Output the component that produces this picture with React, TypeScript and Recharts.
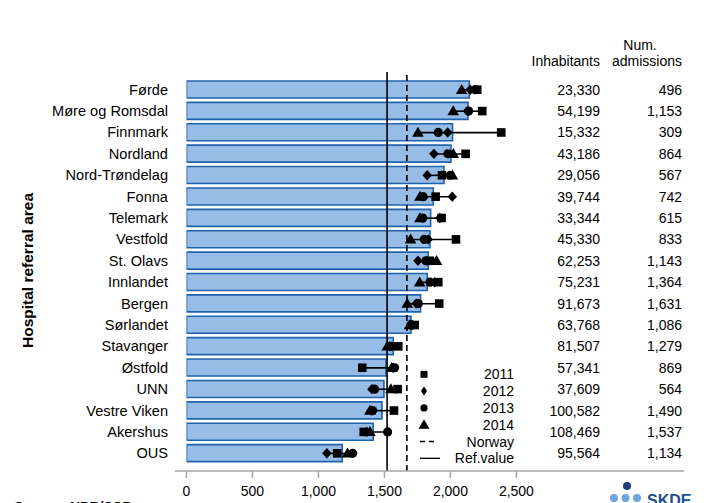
import React from 'react';
import { ComposedChart, Bar, Scatter, XAxis, YAxis, ReferenceLine } from 'recharts';

const categories = [
  'Førde', 'Møre og Romsdal', 'Finnmark', 'Nordland', 'Nord-Trøndelag', 'Fonna',
  'Telemark', 'Vestfold', 'St. Olavs', 'Innlandet', 'Bergen', 'Sørlandet',
  'Stavanger', 'Østfold', 'UNN', 'Vestre Viken', 'Akershus', 'OUS',
];
const rateAll = [2143, 2133, 2016, 2004, 1951, 1870, 1850, 1845, 1832, 1824, 1774, 1701, 1567, 1511, 1496, 1481, 1415, 1180];
const rate2011 = [2203, 2241, 2385, 2115, 1936, 1888, 1933, 2042, 1845, 1908, 1915, 1729, 1605, 1332, 1600, 1572, 1343, 1142];
const rate2012 = [2150, 2130, 1979, 1875, 1824, 2014, 1920, 1832, 1754, 1880, 1740, 1710, 1540, 1565, 1405, 1400, 1365, 1064];
const rate2013 = [2190, 2138, 1908, 1981, 2000, 1794, 1790, 1802, 1814, 1845, 1756, 1700, 1550, 1577, 1425, 1410, 1524, 1259];
const rate2014 = [2085, 2021, 1754, 2022, 2015, 1769, 1769, 1698, 1895, 1767, 1673, 1690, 1521, 1555, 1549, 1390, 1390, 1220];
const inhabitants = [23330, 54199, 15332, 43186, 29056, 39744, 33344, 45330, 62253, 75231, 91673, 63768, 81507, 57341, 37609, 100582, 108469, 95564];
const admissions = [496, 1153, 309, 864, 567, 742, 615, 833, 1143, 1364, 1631, 1086, 1279, 869, 564, 1490, 1537, 1134];
const xTicks = [0, 500, 1000, 1500, 2000, 2500];
const refValue = 1520;
const norwayValue = 1670;
const legendYears = ['2011', '2012', '2013', '2014'];

const data = categories.map((name, i) => {
  const vals = [rate2011[i], rate2012[i], rate2013[i], rate2014[i]];
  return {
    name,
    all: rateAll[i],
    y2011: rate2011[i],
    y2012: rate2012[i],
    y2013: rate2013[i],
    y2014: rate2014[i],
    range: [Math.min(...vals), Math.max(...vals)],
    inh: inhabitants[i],
    adm: admissions[i],
  };
});

const FONT = '"Liberation Sans", Arial, sans-serif';
const fmt = (v: number) => v.toLocaleString('en-US');

const Square = (p: any) => <rect x={p.cx - 4.3} y={p.cy - 4.3} width={8.6} height={8.6} fill="#000" />;
const Diamond = (p: any) => (
  <polygon points={`${p.cx},${p.cy - 5.2} ${p.cx + 4.8},${p.cy} ${p.cx},${p.cy + 5.2} ${p.cx - 4.8},${p.cy}`} fill="#000" />
);
const Dot = (p: any) => <circle cx={p.cx} cy={p.cy} r={4.6} fill="#000" />;
const Tri = (p: any) => (
  <polygon points={`${p.cx},${p.cy - 5.8} ${p.cx + 5.8},${p.cy + 4.2} ${p.cx - 5.8},${p.cy + 4.2}`} fill="#000" />
);

const CatTick = (props: any) => {
  const { y, payload } = props;
  const row = data.find((d) => d.name === payload.value);
  return (
    <g fontFamily={FONT} fill="#000">
      <text x={168} y={y} dy={5} textAnchor="end" fontSize={14.6} fill="#000">{payload.value}</text>
      {row && <text x={600} y={y} dy={5} textAnchor="end" fontSize={14} fill="#000">{fmt(row.inh)}</text>}
      {row && <text x={682} y={y} dy={5} textAnchor="end" fontSize={14} fill="#000">{fmt(row.adm)}</text>}
    </g>
  );
};

export default function App() {
  const legendStep = 16.8;
  const legendTop = 374.3;
  return (
    <div style={{ position: 'absolute', left: 0, top: 0, width: 708, height: 503, background: '#fff', fontFamily: FONT, overflow: 'hidden' }}>
      <ComposedChart
        width={708}
        height={503}
        data={data}
        layout="vertical"
        margin={{ top: 72, right: 24, bottom: 0, left: 0 }}
      >
        <XAxis
          type="number"
          domain={[0, 3770]}
          ticks={xTicks}
          allowDataOverflow
          padding={{ left: 11.5, right: 0 }}
          tickFormatter={fmt}
          height={32}
          stroke="#a6a6a6"
          axisLine={{ stroke: '#a6a6a6', strokeWidth: 1.5 }}
          tickLine={{ stroke: '#a6a6a6', strokeWidth: 1.5 }}
          tickSize={7}
          tickMargin={8}
          tick={{ fill: '#000', fontSize: 14, fontFamily: FONT }}
        />
        <YAxis
          type="category"
          dataKey="name"
          width={175}
          axisLine={false}
          tickLine={false}
          padding={{ top: 7, bottom: 7 }}
          tick={<CatTick />}
          interval={0}
        />
        <YAxis yAxisId="r" type="category" dataKey="name" hide padding={{ top: 7, bottom: 7 }} />
        <Bar dataKey="all" barSize={17} fill="#97bde6" stroke="#1f62ad" strokeWidth={1.6} isAnimationActive={false} />
        <ReferenceLine x={refValue} stroke="#000" strokeWidth={1.6} />
        <ReferenceLine x={norwayValue} stroke="#000" strokeWidth={1.6} strokeDasharray="6 4" />
        <Bar yAxisId="r" dataKey="range" barSize={1.6} fill="#000" isAnimationActive={false} />
        <Scatter dataKey="y2011" shape={Square} isAnimationActive={false} />
        <Scatter dataKey="y2012" shape={Diamond} isAnimationActive={false} />
        <Scatter dataKey="y2013" shape={Dot} isAnimationActive={false} />
        <Scatter dataKey="y2014" shape={Tri} isAnimationActive={false} />
      </ComposedChart>
      <svg width={708} height={503} style={{ position: 'absolute', left: 0, top: 0, pointerEvents: 'none' }} fontFamily={FONT}>
        <text x={640} y={50} textAnchor="middle" fontSize={14} fill="#000">Num.</text>
        <text x={600} y={66} textAnchor="end" fontSize={14} fill="#000">Inhabitants</text>
        <text x={682} y={66} textAnchor="end" fontSize={14} fill="#000">admissions</text>
        <text transform="rotate(-90)" x={-270.5} y={32.5} textAnchor="middle" fontSize={15.5} fontWeight="bold" fill="#000">
          Hospital referral area
        </text>
        {/* legend */}
        <g>
          <rect x={420.5} y={legendTop - 3.5} width={7} height={7} fill="#000" />
          <polygon points={`424,${legendTop + legendStep - 4.5} 427,${legendTop + legendStep} 424,${legendTop + legendStep + 4.5} 421,${legendTop + legendStep}`} fill="#000" />
          <circle cx={424} cy={legendTop + legendStep * 2} r={3.6} fill="#000" />
          <polygon points={`424,${legendTop + legendStep * 3 - 5.5} 429.5,${legendTop + legendStep * 3 + 4} 418.5,${legendTop + legendStep * 3 + 4}`} fill="#000" />
          <line x1={420} x2={435} y1={legendTop + legendStep * 4} y2={legendTop + legendStep * 4} stroke="#000" strokeWidth={1.3} strokeDasharray="5 4" />
          <line x1={420} x2={440} y1={legendTop + legendStep * 5} y2={legendTop + legendStep * 5} stroke="#000" strokeWidth={1.3} />
          {legendYears.map((yr, i) => (
            <text key={yr} x={514} y={legendTop + legendStep * i + 5} textAnchor="end" fontSize={14} fill="#000">{yr}</text>
          ))}
          <text x={514} y={legendTop + legendStep * 4 + 5} textAnchor="end" fontSize={14} fill="#000">Norway</text>
          <text x={514} y={legendTop + legendStep * 5 + 5} textAnchor="end" fontSize={14} fill="#000">Ref.value</text>
        </g>
        {/* source + logo (cut by the page edge, as in the reference) */}
        <text x={14} y={512} fontSize={14} fontWeight="bold" fill="#000">Source: NPR/SSB</text>
        <circle cx={627} cy={486} r={4} fill="#1d3c78" />
        <circle cx={614} cy={498} r={4} fill="#6fa7dc" />
        <circle cx={625.5} cy={498} r={4} fill="#6fa7dc" />
        <circle cx={637} cy={498} r={4} fill="#6fa7dc" />
        <text x={647} y={506} fontSize={16} fontWeight="bold" fill="#1f4e8c">SKDE</text>
      </svg>
    </div>
  );
}
